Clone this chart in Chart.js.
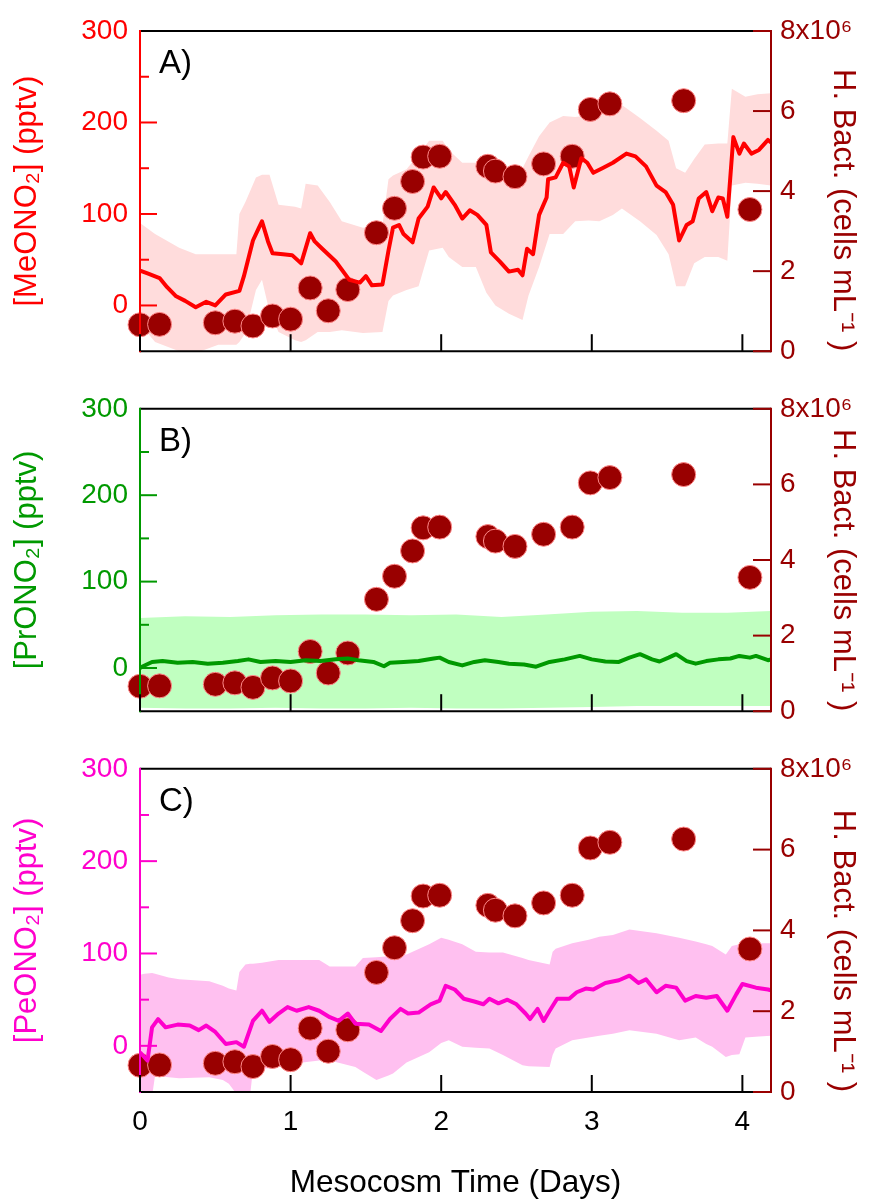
<!DOCTYPE html>
<html><head><meta charset="utf-8">
<script src="https://cdn.jsdelivr.net/npm/chart.js@4.4.0/dist/chart.umd.min.js"></script>
<style>
html,body{margin:0;padding:0;background:#fff;}
#wrap{position:relative;width:870px;height:1202px;overflow:hidden;background:#fff;}
canvas{position:absolute;left:0;}
</style></head><body>
<div id="wrap">
<canvas id="cA" width="870" height="380" style="top:0px"></canvas>
<canvas id="cB" width="870" height="360" style="top:380px"></canvas>
<canvas id="cC" width="870" height="462" style="top:740px"></canvas>
</div>
<script>
// ---------- data ----------
const bactDays  = [0.00,0.13,0.50,0.63,0.75,0.88,1.00,1.13,1.25,1.38,
                   1.57,1.69,1.81,1.88,1.99,2.31,2.36,2.49,2.68,2.87,
                   2.99,3.12,3.61,4.05];
const bactCells = [0.66e6,0.67e6,0.71e6,0.75e6,0.63e6,0.88e6,0.80e6,1.58e6,1.01e6,1.54e6,
                   2.96e6,3.57e6,4.24e6,4.85e6,4.87e6,4.62e6,4.50e6,4.36e6,4.68e6,4.87e6,
                   6.04e6,6.18e6,6.26e6,3.54e6];

const lineDaysA = [0.00,0.05,0.13,0.18,0.24,0.30,0.37,0.44,0.50,0.57,
                   0.66,0.69,0.75,0.79,0.81,0.85,0.88,0.95,1.01,1.07,
                   1.13,1.16,1.21,1.30,1.39,1.46,1.50,1.54,1.61,1.65,
                   1.68,1.72,1.75,1.81,1.85,1.91,1.95,2.00,2.03,2.09,
                   2.14,2.19,2.24,2.30,2.33,2.39,2.45,2.51,2.54,2.57,
                   2.61,2.65,2.70,2.71,2.76,2.81,2.85,2.88,2.93,2.97,
                   3.01,3.07,3.14,3.23,3.29,3.36,3.43,3.49,3.54,3.58,
                   3.63,3.67,3.71,3.76,3.80,3.84,3.87,3.90,3.94,3.98,
                   4.01,4.06,4.11,4.17,4.19];
const meono2    = [38,35,30,20,10,5,-2,4,0,12,
                   16,32,71,85,92,70,57,56,55,46,
                   79,70,62,48,28,25,32,22,23,60,
                   85,88,78,69,95,108,129,117,124,110,
                   95,104,99,88,58,48,37,39,33,62,
                   56,99,118,138,140,156,152,129,161,156,
                   145,150,156,166,163,152,131,124,110,71,
                   88,92,117,124,103,118,117,97,184,166,
                   177,166,170,181,178];
const bandDaysA   = [0.00,0.10,0.26,0.37,0.52,0.64,0.66,0.70,0.77,0.81,
                     0.86,0.92,1.03,1.07,1.10,1.18,1.26,1.34,1.48,1.61,
                     1.65,1.68,1.77,1.85,1.92,2.01,2.05,2.14,2.23,2.30,
                     2.36,2.45,2.54,2.58,2.65,2.72,2.81,2.89,2.98,3.05,
                     3.14,3.20,3.32,3.43,3.51,3.56,3.62,3.68,3.75,3.84,
                     3.90,3.93,4.02,4.10,4.19];
const meono2Upper = [90,78,63,56,56,56,100,113,140,143,
                     143,110,108,106,133,131,113,92,85,88,
                     138,142,149,165,180,180,170,156,156,155,
                     155,152,150,163,185,200,207,206,208,214,
                     219,219,205,191,180,150,145,160,176,177,
                     177,237,228,231,232];
const meono2Lower = [-20,-40,-50,-52,-43,-43,-40,-30,17,28,
                     -7,-29,-38,-40,-38,-29,-29,-27,-30,-29,
                     5,11,17,21,60,63,53,42,42,14,
                     0,-9,-16,11,42,78,78,92,93,92,
                     99,106,92,77,56,21,21,46,53,53,
                     49,131,134,133,131];

const lineDaysB = [0.00,0.02,0.08,0.15,0.25,0.35,0.45,0.55,0.65,0.72,
                   0.80,0.90,1.00,1.10,1.20,1.30,1.38,1.45,1.55,1.62,
                   1.66,1.75,1.85,1.95,1.99,2.05,2.14,2.22,2.29,2.38,
                   2.45,2.55,2.63,2.72,2.82,2.92,3.00,3.09,3.18,3.25,
                   3.32,3.40,3.45,3.51,3.56,3.63,3.69,3.76,3.84,3.92,
                   3.98,4.05,4.09,4.17,4.19];
const prono2    = [0,2,7,8,6,7,5,6,8,10,
                   7,8,7,9,8,10,11,9,7,2,
                   6,7,8,11,12,7,3,7,9,7,
                   5,4,1.5,7,10,14,10,7.5,7,12,
                   16,10,7.5,12,16,8,5,8,10,11,
                   14,12,14,9,10];
const bandDaysB   = [0,0.3,0.6,0.9,1.2,1.5,1.8,2.1,2.4,2.7,3.0,3.3,3.6,3.9,4.19];
const prono2Upper = [58,60,59,61,62,62,61,62,59,62,65,66,64,64,66];
const prono2Lower = [-46,-47,-47,-46,-47,-47,-46,-47,-47,-46,-45,-44,-44,-44,-44];

const lineDaysC = [0.00,0.05,0.08,0.12,0.17,0.25,0.33,0.39,0.44,0.50,
                   0.57,0.64,0.69,0.75,0.81,0.86,0.92,0.98,1.04,1.12,
                   1.19,1.26,1.32,1.38,1.43,1.52,1.60,1.66,1.73,1.78,
                   1.85,1.93,1.99,2.03,2.09,2.15,2.22,2.28,2.32,2.38,
                   2.44,2.50,2.56,2.59,2.64,2.68,2.72,2.77,2.85,2.90,
                   2.96,3.01,3.09,3.18,3.25,3.31,3.36,3.43,3.49,3.56,
                   3.62,3.69,3.76,3.83,3.90,3.96,4.00,4.09,4.17,4.19];
const peono2    = [-7,-16,20,29,20,23,22,17,22,15,
                   2,4,-1,27,38,26,35,42,38,42,
                   38,31,27,35,24,23,16,29,40,35,
                   36,45,49,65,61,51,48,45,51,46,
                   50,45,35,29,40,27,38,51,51,58,
                   62,61,68,71,76,68,72,58,65,63,
                   49,54,52,54,38,56,67,63,61,60];
const bandDaysC   = [0.00,0.03,0.08,0.10,0.19,0.26,0.46,0.55,0.59,0.64,
                     0.66,0.70,0.73,0.75,0.81,0.92,1.08,1.19,1.26,1.43,
                     1.48,1.57,1.65,1.68,1.77,1.92,2.00,2.05,2.14,2.23,
                     2.32,2.41,2.54,2.58,2.72,2.74,2.76,2.87,2.98,3.05,
                     3.14,3.25,3.43,3.58,3.69,3.76,3.80,3.89,3.93,3.98,
                     4.02,4.11,4.19];
const peono2Upper = [77,78,79,78,74,72,70,65,62,60,
                     80,88,89,89,90,93,93,93,86,86,
                     95,96,97,98,99,110,117,115,110,102,
                     101,101,95,93,88,102,105,111,115,118,
                     120,126,122,117,113,110,108,99,108,110,
                     110,111,111];
const peono2Lower = [-45,-56,-55,-32,-34,-35,-34,-37,-41,-52,
                     -55,-55,-55,-26,-25,-23,-18,-16,-16,-23,
                     -28,-37,-32,-30,-18,-7,3,6,-1,-2,
                     -3,-10,-21,-22,-23,-10,-3,6,9,11,
                     13,17,13,6,9,2,-1,-12,-10,-9,
                     9,10,11];

const leftMajorTicks = [0,100,200,300];
const leftMinorTicks = [50,150,250];
const rightTicks = [0,2e6,4e6,6e6,8e6];
const xTicks = [0,1,2,3,4];
const panelLabels = ['A)','B)','C)'];
const leftTitles = ['[MeONO\u2082] (pptv)','[PrONO\u2082] (pptv)','[PeONO\u2082] (pptv)'];
const rightTitle = 'H. Bact. (cells mL\u207B\u00B9 )';
const xTitle = 'Mesocosm Time (Days)';

// ---------- drawing ----------
const FONT = "'Liberation Sans', Arial, Helvetica, sans-serif";
Chart.defaults.font.family = FONT;
const zip = (xs, ys) => xs.map((x, i) => ({x: x, y: ys[i]}));

const framePlugin = {
  id: 'frame',
  afterDraw(chart, args, o) {
    const ctx = chart.ctx, a = chart.chartArea;
    const x = chart.scales.x, y = chart.scales.y, y2 = chart.scales.y2;
    ctx.save();
    ctx.lineWidth = 2;
    ctx.lineCap = 'butt';
    const seg = (c, x1, y1, x2, yy2) => { ctx.strokeStyle = c; ctx.beginPath(); ctx.moveTo(x1, y1); ctx.lineTo(x2, yy2); ctx.stroke(); };
    seg('#000', a.left, a.top, a.right, a.top);
    seg('#000', a.left, a.bottom, a.right, a.bottom);
    seg(o.color, a.left, a.top - 1, a.left, a.bottom + 1);
    seg('#990000', a.right, a.top - 1, a.right, a.bottom + 1);
    leftMajorTicks.filter(v => v < y.max).forEach(v => { const p = y.getPixelForValue(v); seg(o.color, a.left, p, a.left + 17, p); });
    leftMinorTicks.forEach(v => { const p = y.getPixelForValue(v); seg(o.color, a.left, p, a.left + 9, p); });
    rightTicks.forEach(v => { const p = y2.getPixelForValue(v); seg('#990000', a.right - 18, p, a.right, p); });
    xTicks.forEach(v => { const p = x.getPixelForValue(v); seg('#000', p, a.bottom, p, a.bottom - 17); });
    ctx.fillStyle = '#000';
    ctx.font = '33px ' + FONT;
    ctx.textAlign = 'left';
    ctx.textBaseline = 'alphabetic';
    ctx.fillText(o.label, a.left + 19, a.top + 42);
    ctx.restore();
  }
};

function buildPanel(id, p) {
  return new Chart(document.getElementById(id), {
    type: 'line',
    data: { datasets: [
      { data: zip(p.bandDays, p.lower), borderWidth: 0, pointRadius: 0, fill: false, order: 4, yAxisID: 'y', borderColor: 'rgba(0,0,0,0)' },
      { data: zip(p.bandDays, p.upper), borderWidth: 0, pointRadius: 0, fill: '-1', backgroundColor: p.bandColor, borderColor: 'rgba(0,0,0,0)', order: 3, yAxisID: 'y' },
      { data: zip(bactDays, bactCells), showLine: false, pointRadius: 12, pointBackgroundColor: '#990000', pointBorderColor: '#ff8a8a', pointBorderWidth: 1, order: 2, yAxisID: 'y2', clip: false },
      { data: zip(p.lineDays, p.lineVals), borderColor: p.lineColor, borderWidth: 4, pointRadius: 0, fill: false, order: 1, yAxisID: 'y', borderJoinStyle: 'round' }
    ]},
    options: {
      responsive: false, animation: false, events: [],
      layout: { padding: { top: p.padTop, bottom: p.padBottom, left: 0, right: 0 } },
      plugins: { legend: { display: false }, tooltip: { enabled: false }, frame: { color: p.axisColor, label: p.label } },
      scales: {
        x: {
          type: 'linear', min: 0, max: 4.19,
          grid: { display: false, drawTicks: false }, border: { display: false },
          afterBuildTicks: s => { s.ticks = xTicks.map(v => ({ value: v })); },
          ticks: { display: p.showX, color: '#000', padding: 13, font: { size: 28 }, maxRotation: 0, autoSkip: false },
          title: { display: p.showX, text: xTitle, color: '#000', font: { size: 31.5 }, padding: { top: 0, bottom: 0 } },
          afterFit: s => { s.height = p.xHeight; }
        },
        y: {
          position: 'left', min: -50, max: 300,
          grid: { display: false, drawTicks: false }, border: { display: false },
          afterBuildTicks: s => { s.ticks = leftMajorTicks.map(v => ({ value: v })); },
          ticks: { color: p.axisColor, padding: 12, font: { size: 28 } },
          title: { display: true, text: p.title, color: p.axisColor, font: { size: 31 }, padding: { top: 9, bottom: 0 } },
          afterFit: s => { s.width = 140; }
        },
        y2: {
          position: 'right', min: 0, max: 8e6,
          grid: { display: false, drawTicks: false }, border: { display: false },
          afterBuildTicks: s => { s.ticks = rightTicks.map(v => ({ value: v })); },
          ticks: { color: '#990000', padding: 9, font: { size: 28 },
                   callback: v => v === 8e6 ? '8x10\u2076' : String(v / 1e6) },
          title: { display: true, text: rightTitle, align: 'start', color: '#990000', font: { size: 31 }, padding: { top: 9, bottom: 0 } },
          afterFit: s => { s.width = 99; }
        }
      }
    },
    plugins: [framePlugin]
  });
}

buildPanel('cA', { lineDays: lineDaysA, lineVals: meono2, bandDays: bandDaysA, upper: meono2Upper, lower: meono2Lower,
  lineColor: '#ff0000', bandColor: '#ffdcdc', axisColor: '#ff0000', title: leftTitles[0], label: panelLabels[0],
  padTop: 31, padBottom: 20, showX: false, xHeight: 0 });
buildPanel('cB', { lineDays: lineDaysB, lineVals: prono2, bandDays: bandDaysB, upper: prono2Upper, lower: prono2Lower,
  lineColor: '#009900', bandColor: '#c0ffc0', axisColor: '#009900', title: leftTitles[1], label: panelLabels[1],
  padTop: 14, padBottom: 20, showX: false, xHeight: 0 });
buildPanel('cC', { lineDays: lineDaysC, lineVals: peono2, bandDays: bandDaysC, upper: peono2Upper, lower: peono2Lower,
  lineColor: '#ff00cc', bandColor: '#ffc0f0', axisColor: '#ff00cc', title: leftTitles[2], label: panelLabels[2],
  padTop: 26, padBottom: 0, showX: true, xHeight: 110 });
</script>
</body></html>
